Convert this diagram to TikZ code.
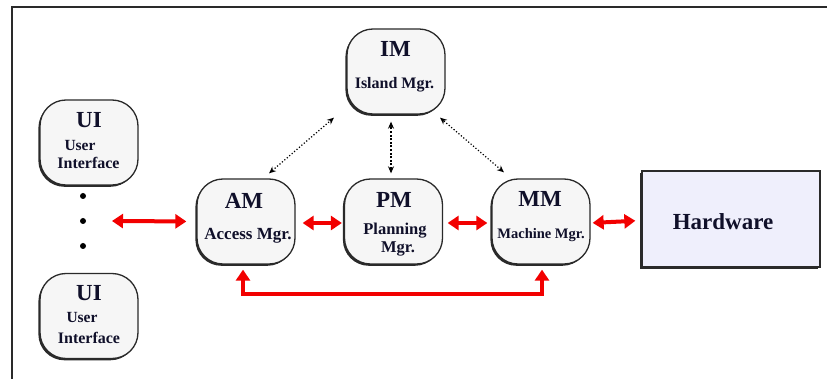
\documentclass[tikz,border=0pt]{standalone}
\usepackage{fontspec}
\setmainfont{Liberation Serif}
\usetikzlibrary{arrows.meta,shadows}
\definecolor{boxfill}{HTML}{F6F6F6}
\definecolor{hwfill}{HTML}{EFEFFC}
\definecolor{edge}{HTML}{2A2A2A}
\definecolor{arrred}{HTML}{F20000}
\definecolor{ink}{HTML}{10102A}
\begin{document}
\begin{tikzpicture}[x=1pt,y=-1pt,
  mgr/.style={draw=edge,line width=1.3pt,fill=boxfill,rounded corners=26pt,
    minimum width=98pt,minimum height=85pt,inner sep=0pt,
    drop shadow={shadow xshift=-1.6pt,shadow yshift=-1.8pt,fill=edge,opacity=1}},
  hwbox/.style={draw=edge,line width=1.3pt,fill=hwfill,
    minimum width=178pt,minimum height=96pt,inner sep=0pt,
    drop shadow={shadow xshift=-1.8pt,shadow yshift=-1.8pt,fill=edge,opacity=1}},
  ttl/.style={anchor=base,inner sep=0pt,text=ink,font=\fontsize{23}{23}\selectfont\bfseries},
  sub/.style={anchor=base,inner sep=0pt,text=ink,font=\fontsize{16.5}{16.5}\selectfont\bfseries},
  redarr/.style={draw=arrred,line width=4pt,{Triangle[length=11pt,width=14pt]}-{Triangle[length=11pt,width=14pt]}},
  dotarr/.style={draw=black,line width=1.2pt,dash pattern=on 1.2pt off 2pt,{Stealth[length=7pt,width=6pt]}-{Stealth[length=7pt,width=6pt]}},
  dotdot/.style={fill=black,circle,inner sep=0pt,minimum size=6pt}
]
\useasboundingbox (0,0) rectangle (827,379);
\clip (0,0) rectangle (827,379);
\fill[white] (0,0) rectangle (827,379);
\draw[edge,line width=1.5pt] (12,390) -- (12,7) -- (840,7);

% boxes
\node[mgr] (im) at (396,71.5) {};
\node[mgr] (ui1) at (89,142.5) {};
\node[mgr] (ui2) at (89,316) {};
\node[mgr] (am) at (246,221.5) {};
\node[mgr] (pm) at (393.5,221.5) {};
\node[mgr] (mm) at (541,221.5) {};
\node[hwbox] (hw) at (731,219) {};

% texts
\node[ttl] (imt) at (395.5,57) {IM};
\node[sub,font=\fontsize{16}{16}\selectfont\bfseries] (ims) at (394.5,89) {Island Mgr.};
\node[ttl] (ui1t) at (89,128) {UI};
\node[sub,font=\fontsize{15.5}{15.5}\selectfont\bfseries] (ui1a) at (80,151) {User};
\node[sub,font=\fontsize{16}{16}\selectfont\bfseries] (ui1b) at (88.5,169) {Interface};
\node[ttl] (ui2t) at (89,301) {UI};
\node[sub,font=\fontsize{15.5}{15.5}\selectfont\bfseries] (ui2a) at (82,323) {User};
\node[sub,font=\fontsize{16}{16}\selectfont\bfseries] (ui2b) at (89,343) {Interface};
\node[ttl] (amt) at (244,209) {AM};
\node[sub,font=\fontsize{17}{17}\selectfont\bfseries] (ams) at (248,240) {Access Mgr.};
\node[ttl] (pmt) at (394,208) {PM};
\node[sub,font=\fontsize{16.5}{16.5}\selectfont\bfseries] (pms1) at (395,235) {Planning};
\node[sub,font=\fontsize{16.5}{16.5}\selectfont\bfseries] (pms2) at (398,253) {Mgr.};
\node[ttl] (mmt) at (540,207) {MM};
\node[sub,font=\fontsize{14.5}{14.5}\selectfont\bfseries] (mms) at (541,239) {Machine Mgr.};
\node[ttl] (hwt) at (723,230) {Hardware};

% dots
\node[dotdot] (d1) at (83,196) {};
\node[dotdot] (d2) at (83,221) {};
\node[dotdot] (d3) at (83,246) {};

% red arrows
\coordinate (uiarr) at (112,221);
\draw[redarr,shorten >=10pt] (uiarr) -- (am.west);
\draw[redarr,shorten <=7pt,shorten >=2pt] ([yshift=-1.5pt]am.east) -- ([yshift=-1.5pt]pm.west);
\draw[redarr,shorten <=4.5pt,shorten >=4pt] ([yshift=-1.5pt]pm.east) -- ([yshift=-1.5pt]mm.west);
\draw[redarr,shorten <=2pt,shorten >=6pt] ([yshift=-1.5pt]mm.east) -- ([yshift=-1.5pt]hw.west);
\draw[redarr] ([xshift=-3pt,yshift=-5pt]am.south) -- ++(0,24) -| ([xshift=1pt,yshift=-5pt]mm.south);

% dotted arrows
\draw[dotarr] ([shift={(23,-5)}]am.north) -- ([shift={(-62,3)}]im.south);
\draw[dotarr,line width=1.8pt,dash pattern=on 2pt off 1.6pt] ([shift={(-2.5,-5)}]pm.north) -- ([shift={(-5,7)}]im.south);
\draw[dotarr] ([shift={(-37,-6)}]mm.north) -- ([shift={(44,3)}]im.south);
\end{tikzpicture}
\end{document}
